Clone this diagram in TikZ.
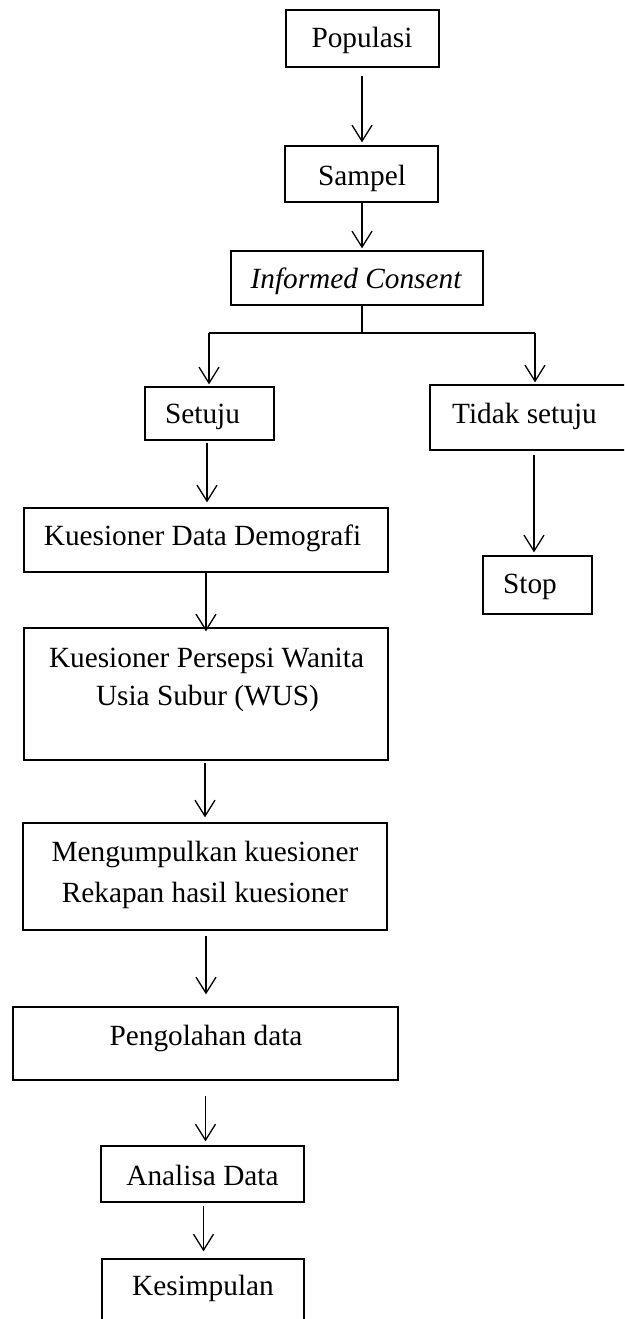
\documentclass[tikz,border=0pt]{standalone}
\usepackage{fontspec}
\setmainfont{Liberation Serif}
\usetikzlibrary{arrows.meta}
\begin{document}
\begin{tikzpicture}[x=1pt,y=-1pt,
  box/.style={draw, line width=1.3pt, rectangle, inner sep=0pt},
  txt/.style={inner sep=0pt, anchor=base, font=\fontsize{29.3}{38}\selectfont},
  conn/.style={line width=1.3pt},
  arr/.style={line width=1.3pt, -{Straight Barb[length=16pt,width=20pt]}}]
\useasboundingbox (0,0) rectangle (624,1319);
\clip (0,0) rectangle (624,1319);
% boxes
\node[box, minimum width=153pt, minimum height=57pt] (pop) at (362.5,38.5) {};
\node[box, minimum width=153pt, minimum height=56pt] (samp) at (361.5,174) {};
\node[box, minimum width=252pt, minimum height=54pt] (ic) at (357,278) {};
\node[box, minimum width=129pt, minimum height=53pt] (set) at (209.5,413.5) {};
\node[box, minimum width=210pt, minimum height=65pt] (tid) at (535,417.5) {};
\node[box, minimum width=109pt, minimum height=58pt] (stop) at (537.5,585) {};
\node[box, minimum width=364pt, minimum height=64pt] (kdd) at (206,540) {};
\node[box, minimum width=364pt, minimum height=132pt] (kpw) at (206,694) {};
\node[box, minimum width=364pt, minimum height=107pt] (meng) at (205,876.5) {};
\node[box, minimum width=385pt, minimum height=73pt] (peng) at (205.5,1043.5) {};
\node[box, minimum width=203pt, minimum height=56pt] (ana) at (202.5,1174) {};
\node[box, minimum width=202pt, minimum height=81pt] (kes) at (203,1299.5) {};
% texts
\node[txt] (popT) at (362,48) {Populasi};
\node[txt] (sampT) at (362,185) {Sampel};
\node[txt] (icT) at (356,288) {\itshape Informed Consent};
\node[txt] (setT) at (202.5,423) {Setuju};
\node[txt] (tidT) at (524.5,423) {Tidak setuju};
\node[txt] (stopT) at (530,593) {Stop};
\node[txt] (kddT) at (202.5,545) {Kuesioner Data Demografi};
\node[txt] (kpwT1) at (206.5,667) {Kuesioner Persepsi Wanita};
\node[txt] (kpwT2) at (207.5,705) {Usia Subur (WUS)};
\node[txt] (mengT1) at (205,861) {Mengumpulkan kuesioner};
\node[txt] (mengT2) at (205,902) {Rekapan hasil kuesioner};
\node[txt] (pengT) at (206,1045) {Pengolahan data};
\node[txt] (anaT) at (202.5,1185) {Analisa Data};
\node[txt] (kesT) at (203,1295) {Kesimpulan};
% connectors
\coordinate (brM) at (362,333);
\coordinate (brL) at (209,333);
\coordinate (brR) at (535,333);
\draw[arr, shorten <=8pt, shorten >=3pt] ([xshift=-0.5pt]pop.south) -- ([xshift=-0.5pt]pop.south |- samp.north);
\draw[arr, shorten >=2pt] ([xshift=0.5pt]samp.south) -- ([xshift=0.5pt]samp.south |- ic.north);
\draw[conn] ([xshift=5pt]ic.south) -- (brM);
\draw[conn] (brL) -- (brR);
\draw[arr, shorten >=2pt] (brL) -- (brL |- set.north);
\draw[arr, shorten >=2pt] (brR) -- (brR |- tid.north);
\draw[arr, shorten <=4pt, shorten >=3pt] ([xshift=-1pt]tid.south) -- ([xshift=-1pt]tid.south |- stop.north);
\draw[arr, shorten <=2pt, shorten >=5pt] ([xshift=-2.5pt]set.south) -- ([xshift=-2.5pt]set.south |- kdd.north);
\draw[arr, shorten >=-4pt] (kdd.south) -- (kdd.south |- kpw.north);
\draw[arr, shorten <=2pt, shorten >=5pt] ([xshift=-1pt]kpw.south) -- ([xshift=-1pt]kpw.south |- meng.north);
\draw[arr, shorten <=5pt, shorten >=12pt] ([xshift=1pt]meng.south) -- ([xshift=1pt]meng.south |- peng.north);
\draw[arr, shorten <=15pt, shorten >=4pt] (peng.south) -- (peng.south |- ana.north);
\draw[arr, shorten <=3pt, shorten >=7pt] ([xshift=1pt]ana.south) -- ([xshift=1pt]ana.south |- kes.north);
\end{tikzpicture}
\end{document}
